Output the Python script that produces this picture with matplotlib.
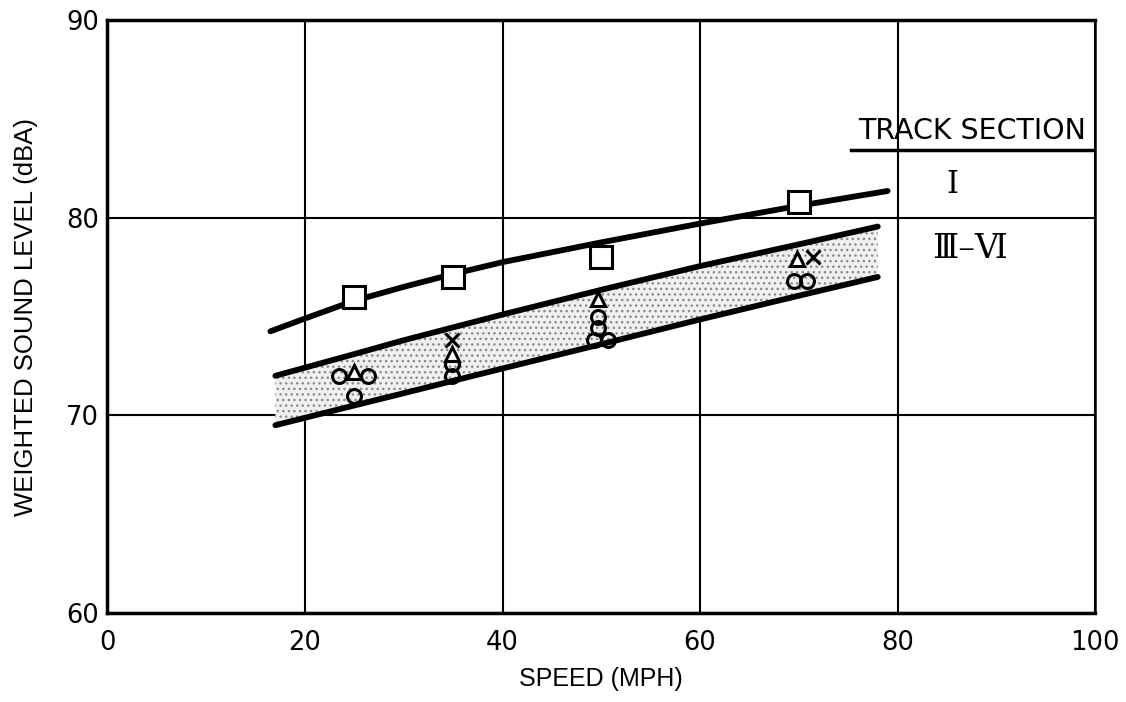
import matplotlib
matplotlib.use("Agg")
import matplotlib.pyplot as plt

plt.rcParams['font.family'] = ['DejaVu Sans']
plt.rcParams['hatch.linewidth'] = 1.0

# Curve for track section I (upper line)
upper_x = [16.5, 20, 25, 30, 35, 40, 50, 60, 70, 79]
upper_y = [74.25, 74.9, 75.8, 76.5, 77.15, 77.75, 78.75, 79.7, 80.6, 81.35]
# Band for track sections III-VI
band_x = [17, 25, 30, 40, 50, 60, 70, 78]
band_top = [72.0, 73.1, 73.8, 75.1, 76.35, 77.55, 78.65, 79.55]
band_bot = [69.5, 70.5, 71.12, 72.37, 73.6, 74.85, 76.05, 77.0]

# Data points
sq_x = [25, 35, 50, 70]
sq_y = [76, 77, 78, 80.8]
circ_x = [23.4, 26.4, 25, 34.9, 34.9, 49.7, 49.7, 49.3, 50.7, 69.5, 70.8]
circ_y = [72.0, 72.0, 71.0, 72.6, 72.0, 75.0, 74.4, 73.8, 73.8, 76.8, 76.8]
tri_x = [25, 34.9, 49.7, 69.8]
tri_y = [72.2, 73.1, 75.9, 77.9]
x_x = [34.9, 71.4]
x_y = [73.8, 78.0]

xticks = [0, 20, 40, 60, 80, 100]
yticks = [60, 70, 80, 90]

fig = plt.figure(figsize=(11.26, 7.02), dpi=100)
ax = fig.add_axes([107.5/1126, 1-613/702, (1095-107.5)/1126, (613-20)/702])
ax.set_xlim(0, 100)
ax.set_ylim(60, 90)
ax.set_xticks(xticks)
ax.set_yticks(yticks)
ax.tick_params(length=0, labelsize=18.5)
ax.tick_params(axis='x', pad=12)
ax.tick_params(axis='y', pad=6)
ax.grid(True, color='black', linewidth=1.5)
for s in ['left', 'bottom', 'top']:
    ax.spines[s].set_linewidth(2.5)
ax.spines['right'].set_linewidth(1.8)

ax.fill_between(band_x, band_bot, band_top, facecolor='#f0f0f0', hatch='...',
                edgecolor='#8a8a8a', linewidth=0, zorder=2)
ax.plot(upper_x, upper_y, color='black', lw=4.2, solid_capstyle='round', zorder=3)
ax.plot(band_x, band_top, color='black', lw=4.2, solid_capstyle='round', zorder=3)
ax.plot(band_x, band_bot, color='black', lw=4.2, solid_capstyle='round', zorder=3)

ax.plot(sq_x, sq_y, 's', ms=16, mfc='white', mec='black', mew=2.2, zorder=5)
ax.plot(circ_x, circ_y, 'o', ms=10, mfc='none', mec='black', mew=2.2, zorder=5)
ax.plot(tri_x, tri_y, '^', ms=10, mfc='white', mec='black', mew=2.2, zorder=6)
ax.plot(x_x, x_y, 'x', ms=10, mec='black', mew=2.2, zorder=6)

# Legend table
ax.plot([75.3, 100], [83.4, 83.4], color='black', lw=2.5, zorder=4)
ax.text(87.5, 84.4, 'TRACK SECTION', fontsize=20.5, ha='center', va='center', zorder=6)
ax.text(85.6, 81.7, 'Ⅰ', fontsize=22, family=['DejaVu Serif'], ha='center', va='center')
ax.text(87.3, 78.4, 'Ⅲ–Ⅵ', fontsize=24, family=['DejaVu Serif'], ha='center', va='center')

ax.set_xlabel('SPEED (MPH)', fontsize=18, family=['Liberation Sans'], labelpad=8)
ax.set_ylabel('WEIGHTED SOUND LEVEL (dBA)', fontsize=18.5, family=['Liberation Sans'], labelpad=20)

fig.savefig('out.png', dpi=100)
